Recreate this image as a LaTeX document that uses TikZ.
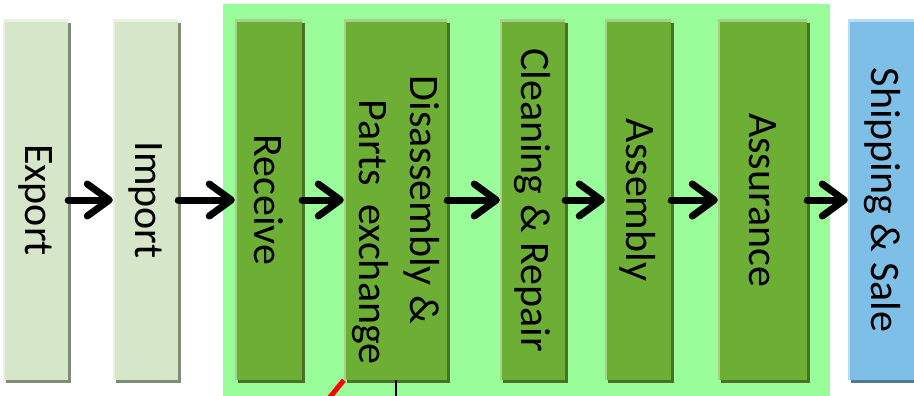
\documentclass[tikz,border=0pt]{standalone}
\usepackage{fontspec}
\usepackage{graphicx}
\setmainfont{Carlito}
\usetikzlibrary{arrows.meta,shadows}
\definecolor{bgg}{HTML}{99FD99}
\definecolor{paleF}{HTML}{D6E6C9}
\definecolor{paleH}{HTML}{E9F2E2}
\definecolor{paleS}{HTML}{7F8C76}
\definecolor{grnF}{HTML}{6DAE35}
\definecolor{grnH}{HTML}{A8CF8C}
\definecolor{grnS}{HTML}{4B7027}
\definecolor{bluF}{HTML}{7DBFE6}
\definecolor{bluH}{HTML}{B8DDF3}
\definecolor{bluS}{HTML}{4F7A92}
\tikzset{
  hl/.style={path picture={\draw[#1,line width=4pt]
      (path picture bounding box.south west) -- (path picture bounding box.north west)
      -- (path picture bounding box.north east);}},
  box/.style={minimum height=360pt, inner sep=0pt, font=\fontsize{42}{51}\selectfont},
  pale/.style={box, fill=paleF, hl=paleH,
      drop shadow={shadow xshift=3pt,shadow yshift=-3pt,fill=paleS,opacity=1}},
  grn/.style={box, fill=grnF, hl=grnH,
      drop shadow={shadow xshift=3pt,shadow yshift=-3pt,fill=grnS,opacity=1}},
  blu/.style={box, fill=bluF, hl=bluH,
      drop shadow={shadow xshift=3pt,shadow yshift=-3pt,fill=bluS,opacity=1}},
  flow/.style={line width=7pt, line cap=round,
      -{Straight Barb[length=22pt,width=32pt,line cap=round,line join=round]}},
}
\begin{document}
\begin{tikzpicture}[x=1pt,y=-1pt]
\path[use as bounding box] (0,0) rectangle (914,396);
\clip (0,0) rectangle (914,396);
\fill[white] (0,0) rectangle (914,396);
\fill[bgg] (223,4) rectangle (830,400);
\node[pale, minimum width=65pt] (exp) at (35.5,200) {\rotatebox{-90}{Export}};
\node[pale, minimum width=65pt] (imp) at (145.5,200) {\rotatebox{-90}{Import}};
\node[grn, minimum width=67pt] (rec) at (268.5,200) {\rotatebox{-90}{Receive}};
\node[grn, minimum width=103pt] (dis) at (395.5,200) {\rotatebox{-90}{\begin{tabular}{@{}c@{}}Disassembly \&\\\hspace*{64pt}Parts\ \ exchange\end{tabular}}};
\node[grn, minimum width=65pt] (cln) at (532.5,200) {\rotatebox{-90}{Cleaning \& Repair}};
\node[grn, minimum width=66pt] (asm) at (638,200) {\rotatebox{-90}{Assembly}};
\node[grn, minimum width=89pt] (asr) at (762.5,200) {\rotatebox{-90}{Assurance}};
\node[blu, minimum width=68pt] (shp) at (882,200) {\rotatebox{-90}{Shipping \& Sale}};
\draw[flow] (exp.east) -- (imp.west);
\draw[flow] (imp.east) -- (rec.west);
\draw[flow] (rec.east) -- (dis.west);
\draw[flow] (dis.east) -- (cln.west);
\draw[flow] (cln.east) -- (asm.west);
\draw[flow] (asm.east) -- (asr.west);
\draw[flow] (asr.east) -- (shp.west);
\coordinate (redend) at (326,402);
\coordinate (blkend) at (395.5,400);
\draw[red, line width=5pt] (dis.south west) -- (redend);
\draw[black, line width=2pt] (dis.south) -- (blkend);
\end{tikzpicture}
\end{document}
